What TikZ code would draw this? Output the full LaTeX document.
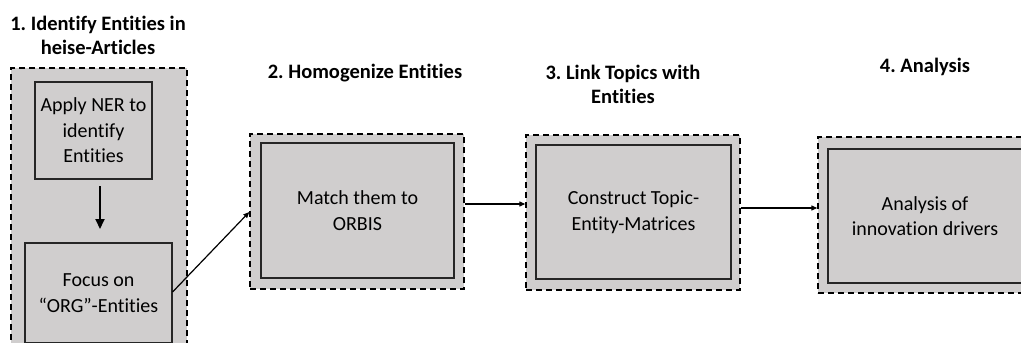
\documentclass[tikz,border=0pt]{standalone}
\usepackage{fontspec}
\setmainfont{Carlito}[RawFeature=-liga]
\frenchspacing
\usetikzlibrary{arrows.meta}
\definecolor{boxgray}{HTML}{D0CECE}
\definecolor{edgegray}{HTML}{262626}
\tikzset{
  outerbox/.style={draw=black, fill=boxgray, dash pattern=on 6pt off 4pt, line width=1.4pt, inner sep=0pt},
  innerbox/.style={draw=edgegray, fill=boxgray, line width=1.1pt, inner sep=0pt, align=center, font=\fontsize{20}{25.5}\selectfont, text=black},
  title/.style={align=center, font=\fontsize{20.5}{24}\selectfont\bfseries, text=black},
  conn/.style={draw=black, line width=1.2pt, -{Triangle[length=6pt,width=5pt]}},
  connbig/.style={draw=black, line width=2pt, -{Triangle[length=10pt,width=9pt]}}
}
\begin{document}
\begin{tikzpicture}[x=1pt,y=-1pt]
\useasboundingbox (0,0) rectangle (1021,343);
\clip (0,0) rectangle (1021,343);
% titles
\node[title] (t1) at (98,35) {1. Identify Entities in\\heise-Articles};
\node[title] (t2) at (365,73) {2. Homogenize Entities};
\node[title] (t3) at (623,84) {3. Link Topics with\\Entities};
\node[title] (t4) at (925,67) {4. Analysis};
% step 1
\node[outerbox, minimum width=176pt, minimum height=292pt] (o1) at (99,214) {};
\node[innerbox, minimum width=117pt, minimum height=97pt] (a1) at (93.5,130.5) {Apply NER to\\identify\\Entities};
\node[innerbox, minimum width=147pt, minimum height=100pt] (b1) at (98.5,293) {Focus on\\“ORG”-Entities};
% step 2
\node[outerbox, minimum width=214pt, minimum height=155pt] (o2) at (357,211.5) {};
\node[innerbox, minimum width=193pt, minimum height=135pt] (i2) at (357.5,210.5) {Match them to\\ORBIS};
% step 3
\node[outerbox, minimum width=214pt, minimum height=155pt] (o3) at (633,212.5) {};
\node[innerbox, minimum width=195pt, minimum height=134pt] (i3) at (633.5,212) {Construct Topic-\\Entity-Matrices};
% step 4
\node[outerbox, minimum width=214pt, minimum height=156pt] (o4) at (925,215) {};
\node[innerbox, minimum width=194pt, minimum height=134pt] (i4) at (925,216) {Analysis of\\innovation drivers};
% connectors
\coordinate (d1) at (100,186);
\coordinate (d2) at (100,229);
\draw[connbig] (d1) -- (d2);
\draw[conn] (b1.east) ++(0,-1) -- (o2.west |- 0,212);
\draw[conn] (o2.east |- 0,204) -- (o3.west |- 0,204);
\draw[conn] (o3.east |- 0,208) -- (o4.west |- 0,208);
\end{tikzpicture}
\end{document}
